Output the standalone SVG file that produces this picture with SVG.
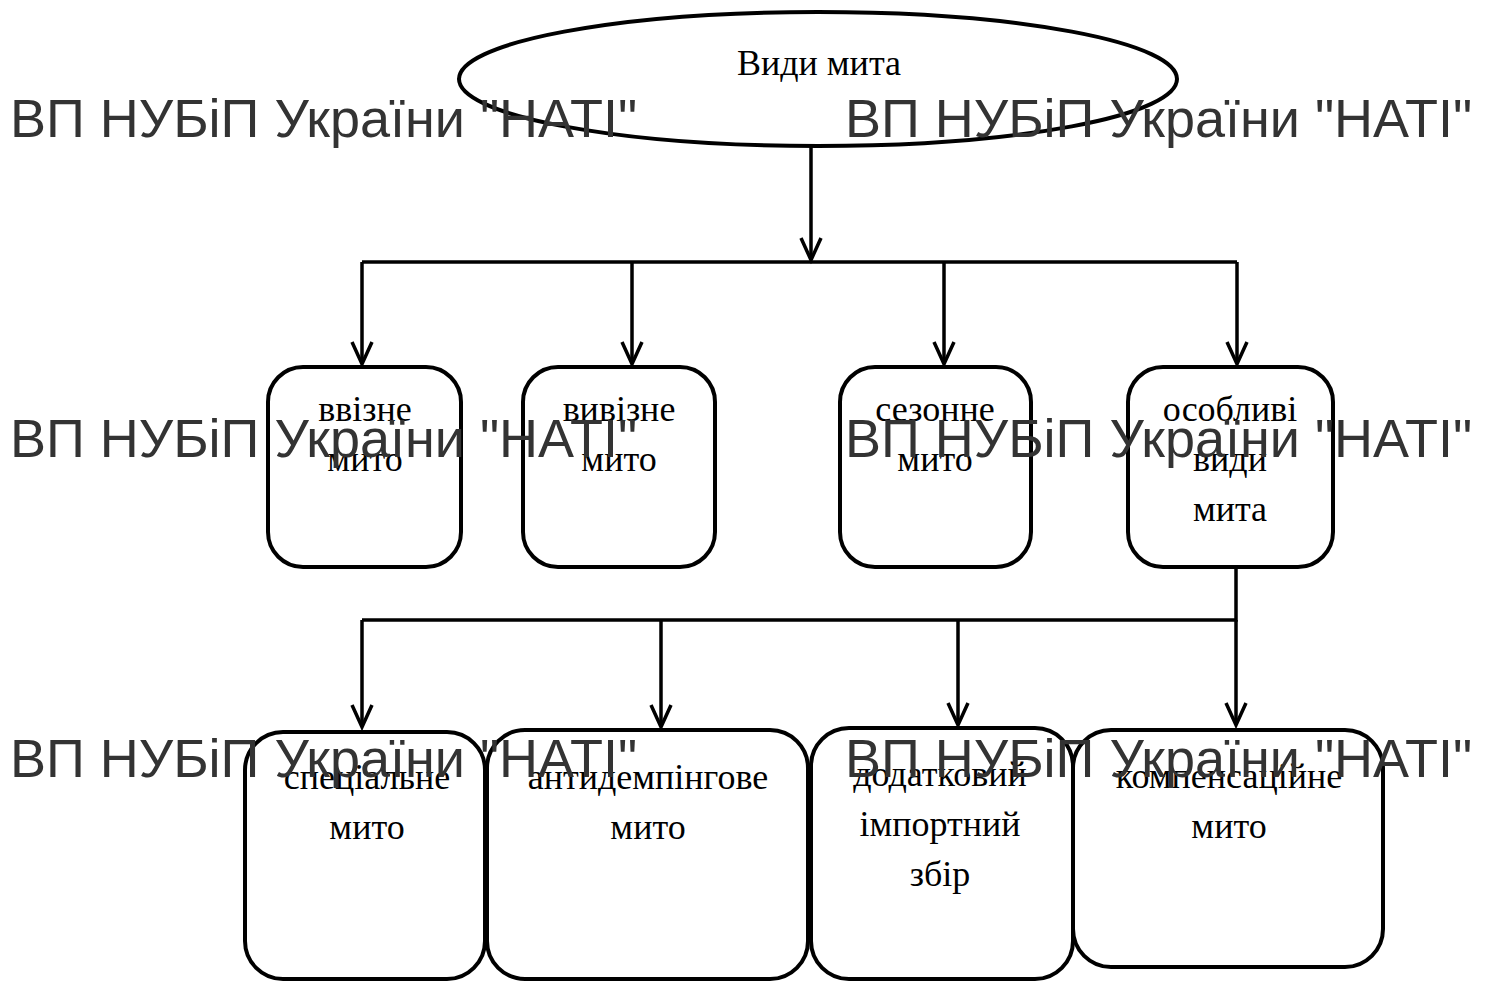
<svg xmlns="http://www.w3.org/2000/svg" width="1486" height="982" viewBox="0 0 1486 982">
<style>
.box{fill:#fff;stroke:#000;stroke-width:4}
.ln{fill:none;stroke:#000;stroke-width:3.5}
.ah{fill:none;stroke:#000;stroke-width:3.5}
.t{font-family:"Liberation Serif","Times New Roman",serif;font-size:36px;fill:#000;text-anchor:middle}
.wm{font-family:"Liberation Sans",Arial,sans-serif;font-size:54px;fill:#333}
</style>
<g id="connectors">
<path class="ln" d="M811,146 V258"/>
<path class="ln" d="M362,262 H1237"/>
<path class="ln" d="M362,262 V364"/>
<path class="ln" d="M632,262 V364"/>
<path class="ln" d="M944,262 V364"/>
<path class="ln" d="M1237,262 V364"/>
<path class="ln" d="M1236,567 V620 H362"/>
<path class="ln" d="M362,620 V726"/>
<path class="ln" d="M661,620 V726"/>
<path class="ln" d="M958,620 V724"/>
<path class="ln" d="M1236,620 V724"/>
<path class="ah" d="M801,238 L811,260 L821,238"/>
<path class="ah" d="M352,342 L362,364 L372,342"/>
<path class="ah" d="M622,342 L632,364 L642,342"/>
<path class="ah" d="M934,342 L944,364 L954,342"/>
<path class="ah" d="M1227,342 L1237,364 L1247,342"/>
<path class="ah" d="M352,705 L362,727 L372,705"/>
<path class="ah" d="M651,705 L661,727 L671,705"/>
<path class="ah" d="M948,703 L958,725 L968,703"/>
<path class="ah" d="M1226,703 L1236,725 L1246,703"/>
</g>
<g id="root">
<ellipse class="box" cx="818" cy="79" rx="359" ry="67"/>
<text class="t" x="819" y="75">Види мита</text>
</g>
<g id="n1">
<rect class="box" x="268" y="367" width="193" height="200" rx="35"/>
<text class="t" x="365" y="421">ввізне</text>
<text class="t" x="365" y="471">мито</text>
</g>
<g id="n2">
<rect class="box" x="523" y="367" width="192" height="200" rx="35"/>
<text class="t" x="619" y="421">вивізне</text>
<text class="t" x="619" y="471">мито</text>
</g>
<g id="n3">
<rect class="box" x="840" y="367" width="191" height="200" rx="35"/>
<text class="t" x="935" y="421">сезонне</text>
<text class="t" x="935" y="471">мито</text>
</g>
<g id="n4">
<rect class="box" x="1128" y="367" width="205" height="200" rx="35"/>
<text class="t" x="1230" y="421">особливі</text>
<text class="t" x="1230" y="471">види</text>
<text class="t" x="1230" y="521">мита</text>
</g>
<g id="n5">
<rect class="box" x="245" y="732" width="240" height="247" rx="38"/>
<text class="t" x="367" y="789">спеціальне</text>
<text class="t" x="367" y="839">мито</text>
</g>
<g id="n6">
<rect class="box" x="487" y="730" width="321" height="249" rx="38"/>
<text class="t" x="648" y="789">антидемпінгове</text>
<text class="t" x="648" y="839">мито</text>
</g>
<g id="n7">
<rect class="box" x="811" y="728" width="262" height="251" rx="38"/>
<text class="t" x="940" y="786">додатковий</text>
<text class="t" x="940" y="836">імпортний</text>
<text class="t" x="940" y="886">збір</text>
</g>
<g id="n8">
<rect class="box" x="1073" y="730" width="310" height="237" rx="38"/>
<text class="t" x="1229" y="788">компенсаційне</text>
<text class="t" x="1229" y="838">мито</text>
</g>
<g id="watermarks">
<text class="wm" x="10" y="137">ВП НУБіП України "НАТІ"</text>
<text class="wm" x="845" y="137">ВП НУБіП України "НАТІ"</text>
<text class="wm" x="10" y="457">ВП НУБіП України "НАТІ"</text>
<text class="wm" x="845" y="457">ВП НУБіП України "НАТІ"</text>
<text class="wm" x="10" y="777">ВП НУБіП України "НАТІ"</text>
<text class="wm" x="845" y="777">ВП НУБіП України "НАТІ"</text>
</g>
</svg>
